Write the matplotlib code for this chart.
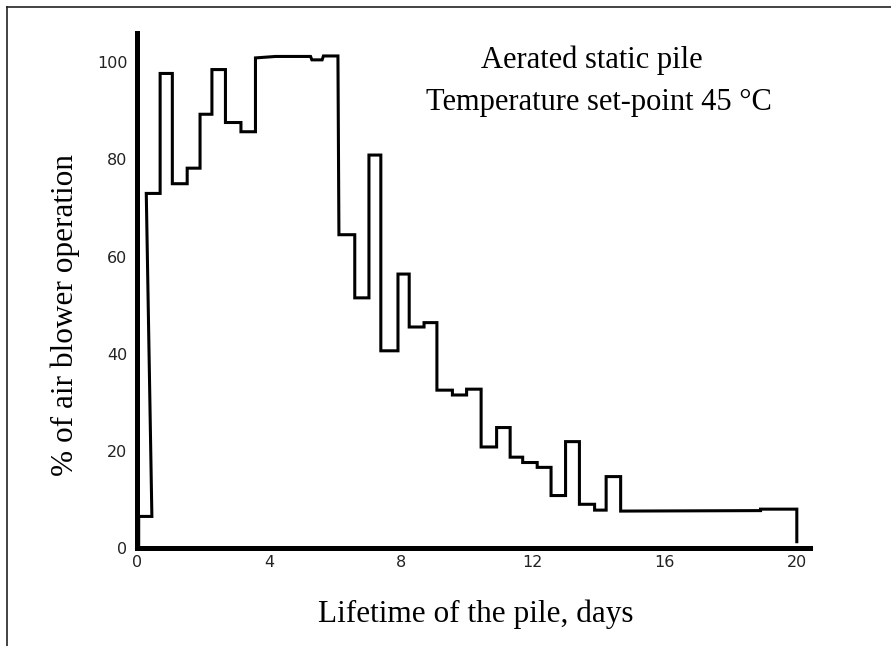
import matplotlib
matplotlib.use("Agg")
import matplotlib.pyplot as plt
from matplotlib.lines import Line2D

# blower operation trace, vertices (day, % on)
day_pts = [0.05, 0.05, 0.45, 0.28, 0.70, 0.70, 1.07, 1.07, 1.52, 1.52,
           1.91, 1.91, 2.27, 2.27, 2.68, 2.68, 3.15, 3.15, 3.59, 3.59,
           4.20, 5.26, 5.30, 5.61, 5.65, 6.09, 6.12, 6.60, 6.60, 7.03,
           7.03, 7.39, 7.39, 7.91, 7.91, 8.25, 8.25, 8.70, 8.70, 9.09,
           9.09, 9.56, 9.56, 9.99, 9.99, 10.43, 10.43, 10.90, 10.90, 11.31,
           11.31, 11.69, 11.69, 12.13, 12.13, 12.55, 12.55, 12.99, 12.99, 13.41,
           13.41, 13.87, 13.87, 14.22, 14.22, 14.66, 14.66, 18.90, 18.90, 20.00,
           20.00]
pct_pts = [0, 6.5, 6.5, 73, 73, 97.7, 97.7, 75, 75, 78.2,
           78.2, 89.3, 89.3, 98.5, 98.5, 87.6, 87.6, 85.7, 85.7, 100.9,
           101.2, 101.2, 100.5, 100.5, 101.3, 101.3, 64.5, 64.5, 51.5, 51.5,
           80.9, 80.9, 40.6, 40.6, 56.4, 56.4, 45.5, 45.5, 46.4, 46.4,
           32.5, 32.5, 31.5, 31.5, 32.7, 32.7, 20.8, 20.8, 24.8, 24.8,
           18.7, 18.7, 17.6, 17.6, 16.6, 16.6, 10.8, 10.8, 21.9, 21.9,
           9.0, 9.0, 7.8, 7.8, 14.7, 14.7, 7.6, 7.7, 8.0, 8.0,
           1.3]

x_ticks = [0, 4, 8, 12, 16, 20]
y_ticks = [0, 20, 40, 60, 80, 100]

serif = ['Liberation Serif', 'DejaVu Serif']

fig = plt.figure(figsize=(8.91, 6.46), dpi=100)
ax = fig.add_axes([0.1538, 0.1517, 0.7553, 0.797])

ax.plot(day_pts, pct_pts, color='black', lw=2.2, solid_joinstyle='miter')

ax.set_xlim(0, 20.4)
ax.set_ylim(0, 106)
ax.set_xticks(x_ticks)
ax.set_yticks(y_ticks)
ax.tick_params(length=0, labelsize=11.5, colors='#222222')
ax.tick_params(axis='y', pad=7)
ax.tick_params(axis='x', pad=5)

for s in ['top', 'right']:
    ax.spines[s].set_visible(False)
for s in ['left', 'bottom']:
    ax.spines[s].set_linewidth(3.6)
    ax.spines[s].set_color('black')

fig.text(0.534, 0.037, 'Lifetime of the pile, days', family=serif,
         fontsize=22.5, ha='center', va='baseline')
fig.text(0.073, 0.512, '% of air blower operation', family=serif,
         fontsize=22.5, ha='center', va='center', rotation=90)
fig.text(0.664, 0.8947, 'Aerated static pile', family=serif,
         fontsize=22, ha='center', va='baseline')
fig.text(0.672, 0.8297, 'Temperature set-point 45 \u00b0C', family=serif,
         fontsize=22, ha='center', va='baseline')

# thin frame around the picture (top and left edges visible)
fig.add_artist(Line2D([0.0075, 1.0], [0.989, 0.989], color='#222222', lw=1.2))
fig.add_artist(Line2D([0.0075, 0.0075], [0.0, 0.989], color='#222222', lw=1.2))

fig.savefig('out.png', dpi=100)
